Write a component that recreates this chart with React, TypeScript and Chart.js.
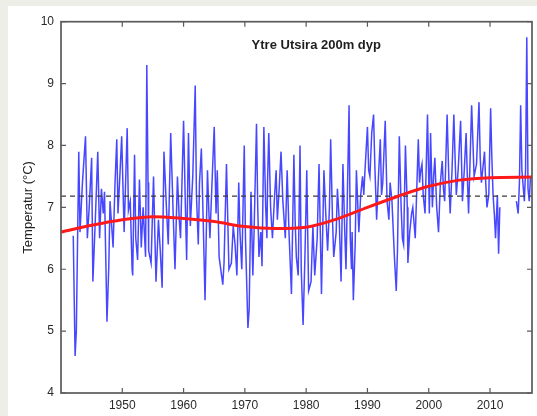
import React, { useEffect, useRef } from "react";
import Chart from "chart.js/auto";

const titleText = "Ytre Utsira 200m dyp";
const yAxisLabel = "Temperatur (°C)";

const years = [
  1942.0, 1942.3, 1942.5, 1942.9, 1943.1, 1943.5, 1944.0, 1944.3, 1944.6, 1945.0,
  1945.2, 1945.6, 1946.0, 1946.3, 1946.6, 1946.9, 1947.1, 1947.5, 1947.8, 1948.0,
  1948.5, 1948.8, 1949.1, 1949.3, 1949.6, 1949.9, 1950.3, 1950.6, 1950.8, 1951.0,
  1951.3, 1951.6, 1951.7, 1952.0, 1952.2, 1952.5, 1952.8, 1953.1, 1953.4, 1953.8,
  1954.0, 1954.2, 1954.3, 1954.7, 1955.1, 1955.3, 1955.5, 1955.9, 1956.2, 1956.5,
  1956.8, 1957.2, 1957.5, 1957.9, 1958.3, 1958.6, 1959.0, 1959.3, 1959.5, 1960.0,
  1960.3, 1960.5, 1960.8, 1961.1, 1961.5, 1961.9, 1962.1, 1962.4, 1962.6, 1962.9,
  1963.2, 1963.5, 1963.9, 1964.1, 1964.3, 1964.6, 1965.0, 1965.3, 1965.5, 1965.8,
  1966.4, 1966.6, 1967.0, 1967.4, 1967.8, 1968.1, 1968.4, 1968.7, 1969.0, 1969.2,
  1969.5, 1969.9, 1970.1, 1970.5, 1970.7, 1971.0, 1971.3, 1971.5, 1971.9, 1972.1,
  1972.3, 1972.6, 1972.8, 1973.1, 1973.4, 1973.6, 1973.7, 1973.9, 1974.2, 1974.5,
  1974.8, 1975.1, 1975.3, 1975.6, 1975.9, 1976.2, 1976.6, 1976.9, 1977.2, 1977.6,
  1978.0, 1978.2, 1978.4, 1978.7, 1979.0, 1979.2, 1979.5, 1979.8, 1980.1, 1980.4,
  1980.8, 1981.1, 1981.4, 1981.8, 1982.1, 1982.5, 1982.9, 1983.2, 1983.5, 1983.8,
  1984.0, 1984.3, 1984.5, 1984.9, 1985.1, 1985.4, 1985.7, 1986.0, 1986.3, 1986.5,
  1987.0, 1987.2, 1987.4, 1987.5, 1987.7, 1988.0, 1988.2, 1988.6, 1988.9, 1989.2,
  1989.4, 1989.6, 1990.0, 1990.2, 1990.4, 1990.7, 1991.0, 1991.2, 1991.5, 1991.8,
  1992.1, 1992.3, 1992.5, 1992.9, 1993.2, 1993.5, 1993.7, 1994.0, 1994.4, 1994.7,
  1994.9, 1995.2, 1995.5, 1995.7, 1995.9, 1996.2, 1996.5, 1996.6, 1996.9, 1997.2,
  1997.4, 1997.8, 1998.3, 1998.5, 1998.7, 1998.9, 1999.1, 1999.4, 1999.8, 2000.1,
  2000.3, 2000.6, 2000.8, 2001.0, 2001.3, 2001.6, 2001.9, 2002.2, 2002.4, 2002.6,
  2003.0, 2003.3, 2003.5, 2003.8, 2004.1, 2004.3, 2004.5, 2004.8, 2005.2, 2005.5,
  2005.8, 2006.1, 2006.3, 2006.5, 2006.7, 2007.0, 2007.3, 2007.4, 2007.8, 2008.2,
  2008.4, 2008.6, 2008.8, 2009.1, 2009.3, 2009.5, 2009.8, 2010.1, 2010.3, 2010.5,
  2010.7, 2010.9, 2011.2, 2011.4, 2011.6, 2013.0, 2014.3, 2014.6, 2014.8, 2015.0,
  2015.2, 2015.6, 2015.8, 2016.0, 2016.2, 2016.4, 2016.6,
];

const temps = [
  6.54, 4.6, 5.0, 7.9, 6.6, 7.4, 8.15, 6.5, 7.0, 7.8,
  5.8, 6.8, 7.9, 6.5, 7.3, 6.9, 7.25, 5.15, 6.05, 7.1,
  6.35, 7.35, 8.1, 6.9, 7.5, 8.15, 6.6, 7.6, 8.28, 6.95,
  7.1, 6.0, 5.9, 7.85, 6.5, 6.15, 7.45, 6.35, 7.0, 6.2,
  9.3, 7.4, 6.3, 6.1, 7.5, 6.6, 5.8, 6.8, 6.3, 5.7,
  7.9, 7.0, 6.4, 8.2, 6.9, 6.0, 7.5, 6.8, 6.5, 8.4,
  7.0, 6.15, 8.2, 6.7, 7.5, 8.97, 7.2, 6.4, 7.4, 7.95,
  6.8, 5.5, 7.6, 7.0, 6.5, 7.3, 8.3, 6.9, 7.6, 6.2,
  5.75, 6.1, 7.7, 6.0, 6.1, 6.7, 6.4, 5.9, 7.4, 6.6,
  6.0, 8.0, 6.5, 5.05, 5.35, 7.25, 5.9, 6.6, 8.35, 7.0,
  6.2, 6.6, 6.05, 8.3, 7.0, 6.5, 7.4, 8.2, 7.0, 6.5,
  7.1, 7.6, 6.8, 7.3, 7.9, 7.1, 6.5, 7.6, 6.6, 5.6,
  7.85, 6.8, 6.2, 5.9, 8.0, 6.0, 5.1, 6.2, 7.6, 5.65,
  5.8, 6.7, 5.9, 6.5, 7.7, 5.6, 7.6, 6.9, 6.3, 7.0,
  8.1, 6.8, 6.2, 6.6, 7.3, 6.8, 5.8, 7.7, 6.6, 6.0,
  8.65, 6.5, 6.0, 6.6, 5.5, 6.4, 7.6, 6.6, 7.2, 7.5,
  7.2, 7.6, 8.3, 7.6, 7.5, 8.2, 8.5, 7.7, 6.8, 7.5,
  8.1, 7.2, 7.4, 8.4, 7.1, 6.8, 7.4, 7.1, 6.2, 5.65,
  6.3, 8.15, 7.0, 6.5, 6.4, 8.0, 7.0, 6.1, 6.6, 6.9,
  7.0, 6.5, 8.1, 7.4, 7.6, 7.7, 7.2, 6.9, 8.5, 6.9,
  8.2, 7.0, 7.5, 7.8, 7.0, 6.6, 7.4, 7.75, 7.3, 7.1,
  8.5, 7.4, 6.9, 7.6, 8.5, 7.8, 7.2, 7.6, 8.4, 7.1,
  7.6, 8.2, 7.5, 6.9, 7.6, 8.65, 7.8, 7.5, 7.7, 8.7,
  7.8, 7.4, 7.6, 7.9, 7.4, 7.0, 7.2, 8.6, 7.8, 7.2,
  6.9, 6.5, 7.2, 6.25, 7.0, null, 7.1, 6.9, 7.4, 8.65,
  7.6, 7.1, 7.6, 9.75, 7.3, 7.1, 7.5,
];

const smoothYears = [1940, 1945, 1950, 1955, 1960, 1965, 1970, 1975, 1980, 1985, 1990, 1995, 2000, 2005, 2010, 2016.85];
const smoothTemps = [6.6, 6.71, 6.8, 6.85, 6.82, 6.77, 6.69, 6.66, 6.68, 6.81, 7.0, 7.18, 7.34, 7.44, 7.48, 7.49];

const meanTemp = 7.18;
const xMin = 1940;
const xMax = 2016.85;
const xTicks = [1950, 1960, 1970, 1980, 1990, 2000, 2010];
const yTicks = [4, 5, 6, 7, 8, 9, 10];

const FONT = '"Liberation Sans", Arial, sans-serif';

const framePlugin = {
  id: "frame",
  afterDatasetsDraw(chart: any) {
    const { ctx, chartArea: a, scales } = chart;
    const x = scales.x;
    const y = scales.y;
    ctx.save();
    ctx.strokeStyle = "#5a5a5a";
    ctx.lineWidth = 1.7;
    ctx.strokeRect(a.left, a.top, a.right - a.left, a.bottom - a.top);
    ctx.lineWidth = 1.2;
    ctx.beginPath();
    for (const t of xTicks) {
      const px = x.getPixelForValue(t);
      ctx.moveTo(px, a.bottom);
      ctx.lineTo(px, a.bottom - 5);
      ctx.moveTo(px, a.top);
      ctx.lineTo(px, a.top + 5);
    }
    for (const t of yTicks) {
      const py = y.getPixelForValue(t);
      ctx.moveTo(a.left, py);
      ctx.lineTo(a.left + 5, py);
      ctx.moveTo(a.right, py);
      ctx.lineTo(a.right - 5, py);
    }
    ctx.stroke();
    ctx.fillStyle = "#1e1e1e";
    ctx.font = "bold 13px " + FONT;
    ctx.textAlign = "center";
    ctx.textBaseline = "middle";
    const cx = a.left + (a.right - a.left) * 0.542;
    const cy = a.top + (a.bottom - a.top) * 0.063;
    ctx.fillText(titleText, cx, cy);
    ctx.restore();
  },
};

export default function App() {
  const ref = useRef<HTMLCanvasElement | null>(null);

  useEffect(() => {
    if (!ref.current) return;
    const blueData = years.map((yr, i) => ({ x: yr, y: temps[i] }));
    const redData = smoothYears.map((yr, i) => ({ x: yr, y: smoothTemps[i] }));
    const meanData = [
      { x: xMin, y: meanTemp },
      { x: xMax, y: meanTemp },
    ];
    const chart = new Chart(ref.current, {
      type: "line",
      data: {
        datasets: [
          {
            data: redData,
            borderColor: "#ff1a1a",
            borderWidth: 3,
            pointRadius: 0,
            cubicInterpolationMode: "monotone",
            fill: false,
          },
          {
            data: meanData,
            borderColor: "#3a3a3a",
            borderWidth: 1.3,
            borderDash: [5, 4],
            pointRadius: 0,
            fill: false,
          },
          {
            data: blueData,
            borderColor: "rgba(30,30,255,0.82)",
            borderWidth: 1.5,
            pointRadius: 0,
            tension: 0,
            spanGaps: false,
            fill: false,
          },
        ],
      },
      options: {
        animation: false,
        responsive: true,
        maintainAspectRatio: false,
        parsing: false as any,
        layout: { padding: { top: 21.7, right: 5, bottom: 0, left: 0 } },
        plugins: {
          legend: { display: false },
          tooltip: { enabled: false },
          title: { display: false },
        },
        scales: {
          x: {
            type: "linear",
            min: xMin,
            max: xMax,
            grid: { display: false, drawTicks: false },
            border: { display: false },
            afterBuildTicks: (s: any) => {
              s.ticks = xTicks.map((v) => ({ value: v }));
            },
            afterFit: (s: any) => {
              s.height = 23;
            },
            ticks: {
              padding: 5,
              color: "#2a2a2a",
              font: { family: FONT, size: 12 },
              callback: (v: any) => String(v),
              maxRotation: 0,
              autoSkip: false,
            },
          },
          y: {
            type: "linear",
            min: 4,
            max: 10,
            grid: { display: false, drawTicks: false },
            border: { display: false },
            afterBuildTicks: (s: any) => {
              s.ticks = yTicks.map((v) => ({ value: v }));
            },
            afterFit: (s: any) => {
              s.width = 61;
            },
            ticks: {
              padding: 7,
              color: "#2a2a2a",
              font: { family: FONT, size: 12 },
              callback: (v: any) => String(v),
            },
            title: {
              display: true,
              text: yAxisLabel,
              color: "#222",
              font: { family: FONT, size: 13 },
              padding: { top: 21, bottom: 0 },
            },
          },
        },
      },
      plugins: [framePlugin],
    });
    return () => chart.destroy();
  }, []);

  return (
    <div style={{ position: "fixed", left: 0, top: 0, width: 537, height: 416, background: "#eeeee8" }}>
      <div style={{ position: "absolute", left: 8, top: 6, right: 0, bottom: 0, background: "#ffffff" }} />
      <div style={{ position: "absolute", left: 0, top: 0, width: 537, height: 416 }}>
        <canvas ref={ref} />
      </div>
    </div>
  );
}
